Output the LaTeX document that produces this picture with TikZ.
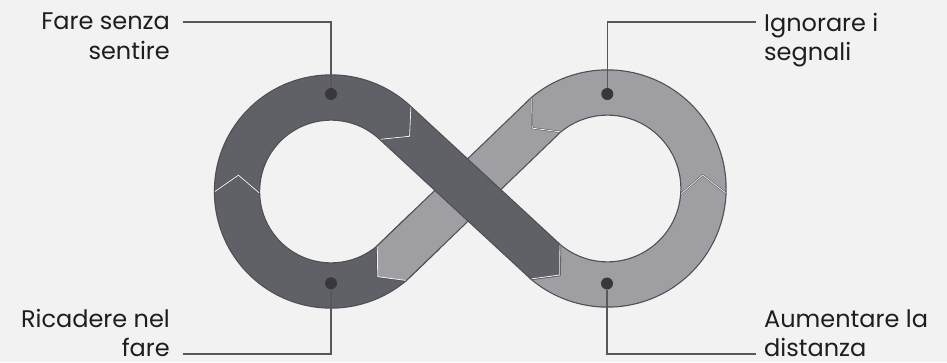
\documentclass[tikz,border=0pt]{standalone}
\usepackage{fontspec}
\setmainfont{Poppins}
\usetikzlibrary{calc}
\definecolor{loopdark}{RGB}{96,96,103}
\definecolor{looplight}{RGB}{158,158,163}
\definecolor{loopedge}{RGB}{78,78,84}
\definecolor{leadgray}{RGB}{88,88,92}
\definecolor{dotgray}{RGB}{55,55,60}
\definecolor{pagebg}{RGB}{242,242,242}
\definecolor{textblack}{RGB}{30,30,30}
\newcommand\ringdark{($(L)+(46.5:116)$) arc[start angle=46.5,end angle=310,radius=116] -- ($(L)+(310:72)$) arc[start angle=310,end angle=46.5,radius=72] -- cycle}
\newcommand\ringlight{($(R)+(230:118)$) arc[start angle=230,end angle=490,radius=118] -- ($(R)+(130:74)$) arc[start angle=490,end angle=230,radius=74] -- cycle}
\newcommand\banddark{($(L)+(46.5:116)$) -- ($(R)+(230:74)$) -- ($(R)+(230:96)+(-43:19)$) -- ($(R)+(230:118)$) -- ($(L)+(46.5:72)$) -- cycle}
\newcommand\bandlight{($(R)+(130:118)$) -- ($(L)+(-50:72)$) -- ($(L)+(-50:94)+(224:19)$) -- ($(L)+(-50:116)$) -- ($(R)+(130:74)$) -- cycle}

\begin{document}
\begin{tikzpicture}[x=1pt,y=1pt,font=\fontsize{24}{29.5}\selectfont,
    rim/.style={draw=loopedge,line width=2.4pt,line join=round},
    seam/.style={draw=white!90!gray,line width=0.8pt,preaction={draw=loopedge,line width=1.8pt}},
    glint/.style={draw=white!90!gray,line width=0.8pt},
    lead/.style={draw=leadgray,line width=1.6pt},
    pin/.style={circle,fill=dotgray,inner sep=0pt,minimum size=12pt},
    tag/.style={inner sep=0pt,text=textblack}]
  \fill[pagebg] (0,0) rectangle (947,362);
  \useasboundingbox (0,0) rectangle (947,362);
  \coordinate (L) at (331,170.5);
  \coordinate (R) at (607.5,173.5);
  % light loop
  \path[rim] \ringlight \bandlight;
  \fill[looplight] \ringlight \bandlight;
  % dark loop
  \path[rim] \ringdark \banddark;
  \fill[loopdark] \ringdark \banddark;
  \begin{scope}
    \clip (300,20) rectangle (440,150);
    \path[rim] \bandlight;
    \fill[looplight] \bandlight;
  \end{scope}
  % joints
  \draw[seam] ($(L)+(46.5:116)$) -- ($(L)+(46.5:94)+(-43:19)$) -- ($(L)+(46.5:72)$);
  \draw[seam] ($(R)+(130:118)$) -- ($(R)+(130:96)+(224:19)$) -- ($(R)+(130:74)$);
  \draw[seam] ($(L)+(180:116)$) -- ($(L)+(170:94)$) -- ($(L)+(181:72)$);
  \draw[seam] ($(R)+(-4:74)$) -- ($(R)+(8:96)$) -- ($(R)+(-2:118)$);
  \draw[glint,shift={(137:1.4)}] ($(R)+(230:74)$) -- ($(R)+(230:96)+(-43:19)$) -- ($(R)+(230:118)$);
  \draw[glint,shift={(44:1.4)}] ($(L)+(-50:72)$) -- ($(L)+(-50:94)+(224:19)$) -- ($(L)+(-50:116)$);
  % labels
  \node[pin] (p1) at (331,268) {};
  \node[pin] (p2) at (607.3,268) {};
  \node[pin] (p3) at (331,78.7) {};
  \node[pin] (p4) at (607,78.5) {};
  \coordinate (e1) at (183,340);
  \coordinate (e2) at (756,340);
  \coordinate (e3) at (183,8);
  \coordinate (e4) at (756,8);
  \draw[lead] (p1.north) |- (e1);
  \draw[lead] (p2.north) |- (e2);
  \draw[lead] (p3.south) |- (e3);
  \draw[lead] (p4.south) |- (e4);
  \node[tag,anchor=north east,align=right] (t1) at (170,349) {Fare senza\\sentire};
  \node[tag,anchor=north west,align=left] (t2) at (764,349) {Ignorare i\\segnali};
  \node[tag,anchor=south east,align=right] (t3) at (170,5) {Ricadere nel\\fare};
  \node[tag,anchor=south west,align=left] (t4) at (764,5) {Aumentare la\\distanza};
\end{tikzpicture}
\end{document}
